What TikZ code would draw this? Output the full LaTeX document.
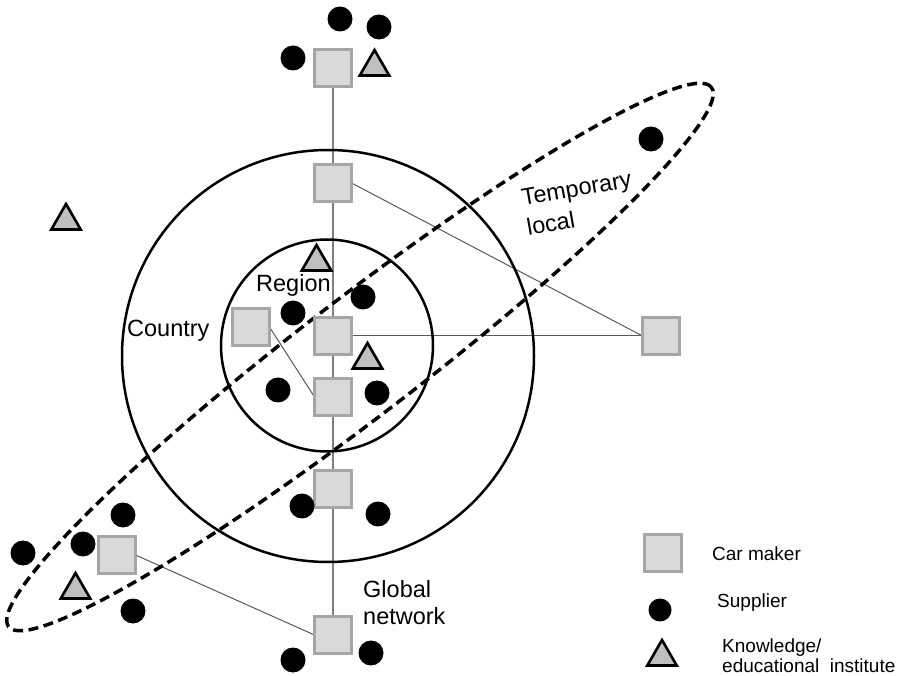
\documentclass[tikz,border=0pt]{standalone}
\usepackage{fontspec}
\setmainfont{Liberation Sans}
\usetikzlibrary{shapes.geometric,backgrounds}
\definecolor{makerfill}{HTML}{D9D9D9}
\definecolor{makerdraw}{HTML}{A6A6A6}
\definecolor{instfill}{HTML}{BFBFBF}
\definecolor{linkgray}{HTML}{595959}
\definecolor{spinegray}{HTML}{7F7F7F}

\begin{document}
\begin{tikzpicture}[x=1pt,y=-1pt,
  maker/.style={draw=makerdraw, fill=makerfill, line width=3pt, minimum size=37pt, inner sep=0pt, outer sep=0pt},
  supplier/.style={circle, fill=black, minimum size=25pt, inner sep=0pt},
  institute/.style={regular polygon, regular polygon sides=3, draw=black, fill=instfill, line width=2.6pt, minimum size=34pt, inner sep=0pt},
  ring/.style={circle, draw=black, line width=2.5pt, inner sep=0pt, outer sep=0pt},
  ringtext/.style={font=\fontsize{23.5}{28}\selectfont, inner sep=0pt, anchor=base west},
  legendtext/.style={font=\fontsize{19}{20}\selectfont, inner sep=0pt, anchor=base west},
  link/.style={draw=linkgray, line width=1pt},
  spine/.style={draw=spinegray, line width=1.6pt},
]
\useasboundingbox (0,0) rectangle (898,676);

% temporary local cluster
\node[ellipse, draw=black, line width=3.5pt, dash pattern=on 10pt off 5.5pt,
      minimum width=886pt, minimum height=118pt, inner sep=0pt, rotate=37.5]
      (temporary) at (360,357) {};

% country and region rings
\node[ring, minimum size=412pt] (country) at (328,356) {};
\node[ring, minimum size=212pt] (region) at (327,345.5) {};

% car makers
\node[maker] (cmTop)   at (333,68)  {};
\node[maker] (cmUpper) at (333,183) {};
\node[maker] (cmLeft)  at (251,327) {};
\node[maker] (cmMid)   at (333,336) {};
\node[maker] (cmLow)   at (333,397) {};
\node[maker] (cmSouth) at (333,489) {};
\node[maker] (cmEast)  at (661,336) {};
\node[maker] (cmWest)  at (117,555) {};
\node[maker] (cmBot)   at (333,635) {};

% suppliers
\node[supplier] (s1)  at (340,19)  {};
\node[supplier] (s2)  at (379,27)  {};
\node[supplier] (s3)  at (293,58)  {};
\node[supplier] (s4)  at (651,139) {};
\node[supplier] (s5)  at (363,297) {};
\node[supplier] (s6)  at (293,313) {};
\node[supplier] (s7)  at (278,390) {};
\node[supplier] (s8)  at (377,393) {};
\node[supplier] (s9)  at (302,506) {};
\node[supplier] (s10) at (378,514) {};
\node[supplier] (s11) at (123,515) {};
\node[supplier] (s12) at (23,553)  {};
\node[supplier] (s13) at (83,544)  {};
\node[supplier] (s14) at (133,611) {};
\node[supplier] (s15) at (293,660) {};
\node[supplier] (s16) at (371,653) {};

% knowledge / educational institutes
\node[institute] (k1) at (374.5,67)  {};
\node[institute] (k2) at (66,221)    {};
\node[institute] (k3) at (316.5,262) {};
\node[institute] (k4) at (367.5,360) {};
\node[institute] (k5) at (75.5,590)  {};

% links between car makers
\begin{scope}[on background layer]
  \draw[spine] (cmTop) -- (cmBot);
  \draw[link] (cmUpper.east) -- (cmEast.west);
  \draw[link] (cmMid.east) -- (cmEast.west);
  \draw[link] (cmLeft.east) -- (cmLow.west);
  \draw[link] (cmWest.east) -- (cmBot.west);
\end{scope}

% ring and cluster labels
\node[ringtext] (tRegion)  at (256,292) {Region};
\node[ringtext] (tCountry) at (127,337) {Country};
\node[ringtext] (tGlobal)  at (363,597)
  {\begin{tabular}[t]{@{}l@{}}Global\\network\end{tabular}};
\node[ringtext, rotate=10, font=\fontsize{23.5}{30}\selectfont] (tTemp) at (523,206)
  {\begin{tabular}[t]{@{}l@{}}Temporary\\local\end{tabular}};

% legend
\node[maker] (legMaker) at (663,553) {};
\node[supplier, minimum size=23pt] (legSupplier) at (660,610) {};
\node[institute] (legInst) at (662,657) {};
\node[legendtext] (legMakerText) at (712,560) {Car maker};
\node[legendtext] (legSupplierText) at (717,607) {Supplier};
\node[legendtext] (legInstText) at (722,652)
  {\begin{tabular}[t]{@{}l@{}}Knowledge/\\educational~ institute\end{tabular}};
\end{tikzpicture}
\end{document}
